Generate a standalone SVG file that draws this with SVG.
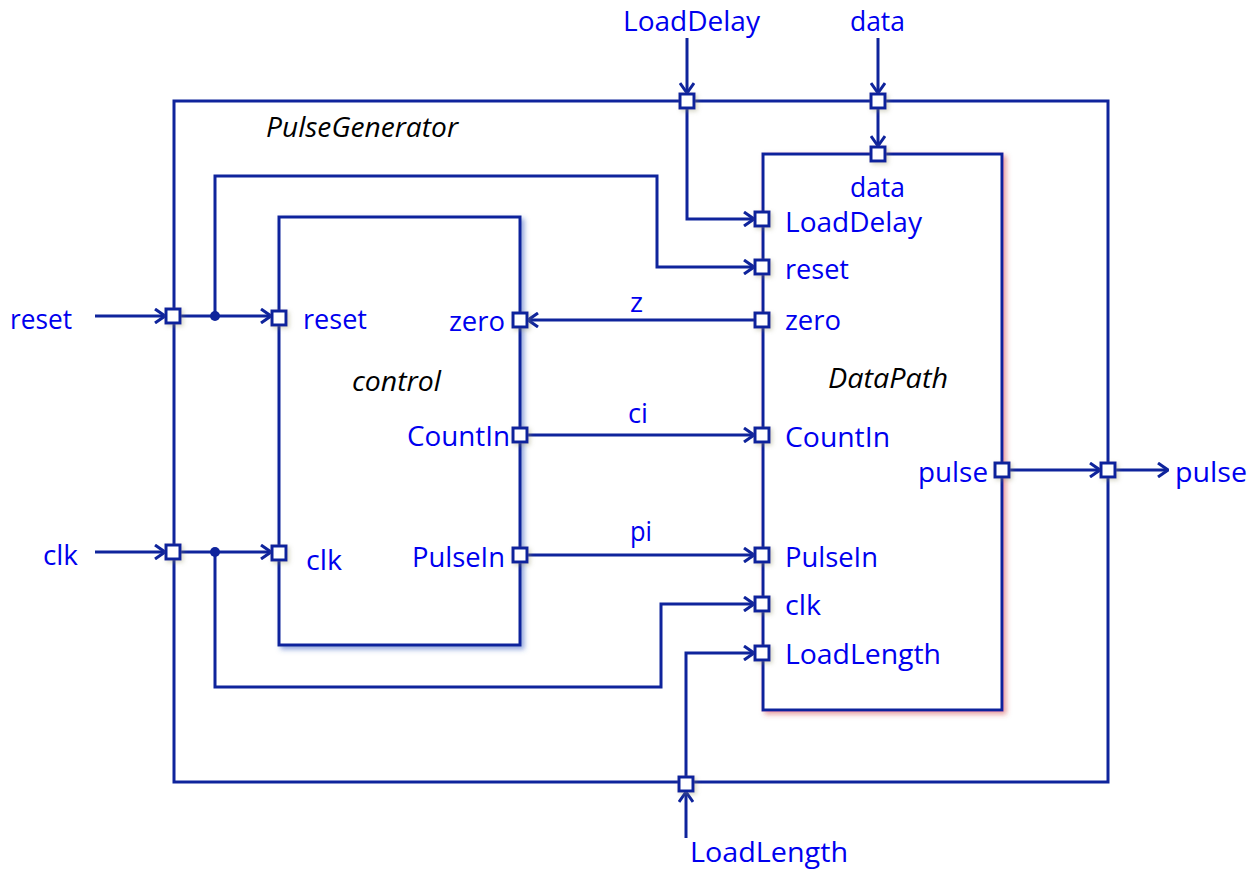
<svg xmlns="http://www.w3.org/2000/svg" width="1257" height="870" viewBox="0 0 1257 870">
  <style>
    .box { fill: #ffffff; stroke: #0f249c; stroke-width: 3; }
    .outer { fill: none; stroke: #0f249c; stroke-width: 3; }
    .port { fill: #ffffff; stroke: #0f249c; stroke-width: 3; }
    .arr { fill: none; stroke: #0f249c; stroke-width: 3; marker-end: url(#arrow); }
    text { font-family: "Open Sans", "Noto Sans", sans-serif; font-size: 27px; }
    .lbl { fill: #0000ee; }
    .name { font-style: italic; fill: #000000; }
  </style>
  <defs>
    <marker id="arrow" viewBox="0 0 12 16" refX="11" refY="8" markerWidth="12" markerHeight="16" markerUnits="userSpaceOnUse" orient="auto">
      <path d="M1,1 L11,8 L1,15" fill="none" stroke="#0f249c" stroke-width="3"/>
    </marker>
    <filter id="shadowBlue" x="-10%" y="-10%" width="130%" height="130%">
      <feDropShadow dx="3" dy="3" stdDeviation="2.5" flood-color="#3a5fc0" flood-opacity="0.55"/>
    </filter>
    <filter id="shadowRed" x="-10%" y="-10%" width="130%" height="130%">
      <feDropShadow dx="3" dy="3" stdDeviation="2.5" flood-color="#d04040" flood-opacity="0.5"/>
    </filter>
    <filter id="shadowPort" x="-50%" y="-50%" width="200%" height="200%">
      <feDropShadow dx="2" dy="2" stdDeviation="2" flood-color="#8a8a60" flood-opacity="0.35"/>
    </filter>
  </defs>

  <!-- enclosing PulseGenerator block -->
  <g id="PulseGenerator">
    <rect class="outer" x="174" y="101" width="934" height="681"/>
    <text class="name" x="266" y="137" textLength="192" lengthAdjust="spacingAndGlyphs">PulseGenerator</text>
  </g>

  <!-- control block -->
  <g id="control">
    <rect class="box" x="279" y="217" width="241" height="428" filter="url(#shadowBlue)"/>
    <text class="name" x="352" y="391" textLength="89" lengthAdjust="spacingAndGlyphs">control</text>
    <text class="lbl" x="303" y="329" textLength="64" lengthAdjust="spacingAndGlyphs">reset</text>
    <text class="lbl" x="306" y="570" textLength="36" lengthAdjust="spacingAndGlyphs">clk</text>
    <text class="lbl" x="449" y="331" textLength="56" lengthAdjust="spacingAndGlyphs">zero</text>
    <text class="lbl" x="407" y="446" textLength="103" lengthAdjust="spacingAndGlyphs">CountIn</text>
    <text class="lbl" x="412" y="567" textLength="93" lengthAdjust="spacingAndGlyphs">PulseIn</text>
  </g>

  <!-- DataPath block -->
  <g id="DataPath">
    <rect class="box" x="763" y="154" width="239" height="556" filter="url(#shadowRed)"/>
    <text class="name" x="828" y="388" textLength="120" lengthAdjust="spacingAndGlyphs">DataPath</text>
    <text class="lbl" x="850" y="197" textLength="55" lengthAdjust="spacingAndGlyphs">data</text>
    <text class="lbl" x="785" y="232" textLength="137" lengthAdjust="spacingAndGlyphs">LoadDelay</text>
    <text class="lbl" x="785" y="279" textLength="64" lengthAdjust="spacingAndGlyphs">reset</text>
    <text class="lbl" x="785" y="330" textLength="56" lengthAdjust="spacingAndGlyphs">zero</text>
    <text class="lbl" x="785" y="447" textLength="105" lengthAdjust="spacingAndGlyphs">CountIn</text>
    <text class="lbl" x="785" y="567" textLength="93" lengthAdjust="spacingAndGlyphs">PulseIn</text>
    <text class="lbl" x="785" y="615" textLength="36" lengthAdjust="spacingAndGlyphs">clk</text>
    <text class="lbl" x="785" y="664" textLength="156" lengthAdjust="spacingAndGlyphs">LoadLength</text>
    <text class="lbl" x="918" y="482" textLength="70" lengthAdjust="spacingAndGlyphs">pulse</text>
  </g>

  <!-- external signal names -->
  <g id="external-labels">
    <text class="lbl" x="623" y="31" textLength="137" lengthAdjust="spacingAndGlyphs">LoadDelay</text>
    <text class="lbl" x="850" y="31" textLength="55" lengthAdjust="spacingAndGlyphs">data</text>
    <text class="lbl" x="10" y="329" textLength="62" lengthAdjust="spacingAndGlyphs">reset</text>
    <text class="lbl" x="43" y="565" textLength="35" lengthAdjust="spacingAndGlyphs">clk</text>
    <text class="lbl" x="1175" y="482" textLength="72" lengthAdjust="spacingAndGlyphs">pulse</text>
    <text class="lbl" x="690" y="862" textLength="158" lengthAdjust="spacingAndGlyphs">LoadLength</text>
  </g>

  <!-- connectors -->
  <g id="connectors">
    <!-- inputs into PulseGenerator -->
    <line class="arr" x1="687" y1="38" x2="687" y2="93"/>
    <line class="arr" x1="878" y1="38" x2="878" y2="93"/>
    <line class="arr" x1="95" y1="316" x2="165" y2="316"/>
    <line class="arr" x1="95" y1="552" x2="165" y2="552"/>
    <line class="arr" x1="686" y1="838" x2="686" y2="792"/>
    <!-- data -->
    <line class="arr" x1="878" y1="109" x2="878" y2="146"/>
    <!-- LoadDelay -->
    <polyline class="arr" points="687,109 687,219 754,219"/>
    <!-- reset -->
    <line class="arr" x1="181" y1="316" x2="271" y2="316"/>
    <polyline class="arr" points="215,316 215,176 657,176 657,267 754,267"/>
    <circle cx="215" cy="316" r="5" fill="#0f249c"/>
    <!-- clk -->
    <line class="arr" x1="181" y1="552" x2="271" y2="552"/>
    <polyline class="arr" points="215,552 215,687 661,687 661,604 754,604"/>
    <circle cx="215" cy="552" r="5" fill="#0f249c"/>
    <!-- LoadLength -->
    <polyline class="arr" points="686,776 686,653 754,653"/>
    <!-- z / ci / pi -->
    <line class="arr" x1="755" y1="320" x2="528" y2="320"/>
    <line class="arr" x1="527" y1="435" x2="754" y2="435"/>
    <line class="arr" x1="527" y1="555" x2="754" y2="555"/>
    <text class="lbl" x="630" y="312" textLength="13" lengthAdjust="spacingAndGlyphs">z</text>
    <text class="lbl" x="628" y="423" textLength="20" lengthAdjust="spacingAndGlyphs">ci</text>
    <text class="lbl" x="630" y="541" textLength="22" lengthAdjust="spacingAndGlyphs">pi</text>
    <!-- pulse -->
    <line class="arr" x1="1009" y1="470" x2="1100" y2="470"/>
    <line class="arr" x1="1115" y1="470" x2="1168" y2="470"/>
  </g>

  <!-- ports -->
  <g id="ports" filter="url(#shadowPort)">
    <rect class="port" x="680" y="94" width="14" height="14"/>
    <rect class="port" x="871" y="94" width="14" height="14"/>
    <rect class="port" x="166" y="309" width="14" height="14"/>
    <rect class="port" x="166" y="545" width="14" height="14"/>
    <rect class="port" x="1101" y="463" width="14" height="14"/>
    <rect class="port" x="679" y="777" width="14" height="14"/>
    <rect class="port" x="272" y="311" width="14" height="14"/>
    <rect class="port" x="272" y="546" width="14" height="14"/>
    <rect class="port" x="513" y="313" width="14" height="14"/>
    <rect class="port" x="513" y="428" width="14" height="14"/>
    <rect class="port" x="513" y="548" width="14" height="14"/>
    <rect class="port" x="871" y="147" width="14" height="14"/>
    <rect class="port" x="755" y="212" width="14" height="14"/>
    <rect class="port" x="755" y="260" width="14" height="14"/>
    <rect class="port" x="755" y="313" width="14" height="14"/>
    <rect class="port" x="755" y="428" width="14" height="14"/>
    <rect class="port" x="755" y="548" width="14" height="14"/>
    <rect class="port" x="755" y="597" width="14" height="14"/>
    <rect class="port" x="755" y="646" width="14" height="14"/>
    <rect class="port" x="995" y="463" width="14" height="14"/>
  </g>
</svg>
